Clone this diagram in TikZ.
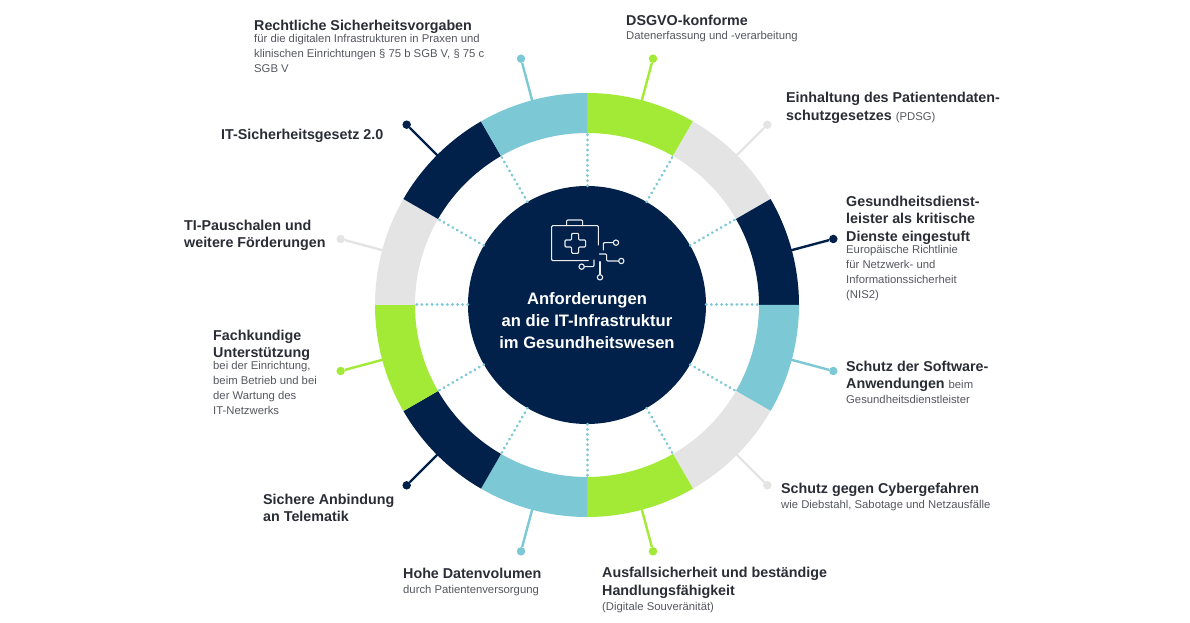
\documentclass[tikz,border=0pt]{standalone}
\usepackage{fontspec}
\setmainfont{Liberation Sans}
\usetikzlibrary{calc,positioning}
\definecolor{navyseg}{HTML}{02214a}
\definecolor{tealseg}{HTML}{7cc8d4}
\definecolor{limeseg}{HTML}{a2ea35}
\definecolor{greyseg}{HTML}{e4e4e4}
\definecolor{headtext}{HTML}{2a2c36}
\definecolor{subtext}{HTML}{55575f}

\tikzset{
	headnode/.style={anchor=north west,inner sep=0pt,align=left,text=headtext,
		font=\fontsize{14.3}{17.5}\selectfont\bfseries,execute at begin node=\strut},
	subnode/.style={anchor=north west,inner sep=0pt,align=left,text=subtext,
		font=\fontsize{11.3}{15}\selectfont,execute at begin node=\strut},
	endball/.style={circle,fill,inner sep=0pt,minimum size=8.5pt},
	stem/.style={line width=2.4pt},
	spoke/.style={tealseg,line width=3pt,line cap=round,dash pattern=on 0.1pt off 5pt},
	iconline/.style={draw=white!92!navyseg,line width=1.1pt,line cap=round,line join=round,rounded corners=1pt}
}

\begin{document}
\begin{tikzpicture}[x=1pt,y=1pt]
	\useasboundingbox (-587,-318) rectangle (603,305);

	% ring
	\fill[limeseg](90:212) arc (90:60:212) -- (60:172) arc (60:90:172) -- cycle;
	\fill[greyseg](60:212) arc (60:30:212) -- (30:172) arc (30:60:172) -- cycle;
	\fill[navyseg](30:212) arc (30:0:212) -- (0:172) arc (0:30:172) -- cycle;
	\fill[tealseg](0:212) arc (0:-30:212) -- (-30:172) arc (-30:0:172) -- cycle;
	\fill[greyseg](-30:212) arc (-30:-60:212) -- (-60:172) arc (-60:-30:172) -- cycle;
	\fill[limeseg](-60:212) arc (-60:-90:212) -- (-90:172) arc (-90:-60:172) -- cycle;
	\fill[tealseg](-90:212) arc (-90:-120:212) -- (-120:172) arc (-120:-90:172) -- cycle;
	\fill[navyseg](-120:212) arc (-120:-150:212) -- (-150:172) arc (-150:-120:172) -- cycle;
	\fill[limeseg](-150:212) arc (-150:-180:212) -- (-180:172) arc (-180:-150:172) -- cycle;
	\fill[greyseg](180:212) arc (180:150:212) -- (150:172) arc (150:180:172) -- cycle;
	\fill[navyseg](150:212) arc (150:120:212) -- (120:172) arc (120:150:172) -- cycle;
	\fill[tealseg](120:212) arc (120:90:212) -- (90:172) arc (90:120:172) -- cycle;

	\node[circle,fill=navyseg,inner sep=0pt,minimum size=238pt] (hub) at (0,0) {};

	% spokes
	\coordinate (inA) at (90:172);
	\coordinate (inB) at (60:172);
	\coordinate (inC) at (30:172);
	\coordinate (inD) at (0:172);
	\coordinate (inE) at (-30:172);
	\coordinate (inF) at (-60:172);
	\coordinate (inG) at (-90:172);
	\coordinate (inH) at (-120:172);
	\coordinate (inI) at (-150:172);
	\coordinate (inJ) at (180:172);
	\coordinate (inK) at (150:172);
	\coordinate (inL) at (120:172);
	\draw[spoke] (hub.90) -- (inA);
	\draw[spoke] (hub.60) -- (inB);
	\draw[spoke] (hub.30) -- (inC);
	\draw[spoke] (hub.0) -- (inD);
	\draw[spoke] (hub.-30) -- (inE);
	\draw[spoke] (hub.-60) -- (inF);
	\draw[spoke] (hub.-90) -- (inG);
	\draw[spoke] (hub.-120) -- (inH);
	\draw[spoke] (hub.-150) -- (inI);
	\draw[spoke] (hub.180) -- (inJ);
	\draw[spoke] (hub.150) -- (inK);
	\draw[spoke] (hub.120) -- (inL);

	% stems
	\coordinate (outA) at (75:211);
	\coordinate (outB) at (45:211);
	\coordinate (outC) at (15:211);
	\coordinate (outD) at (-15:211);
	\coordinate (outE) at (-45:211);
	\coordinate (outF) at (-75:211);
	\coordinate (outG) at (-105:211);
	\coordinate (outH) at (-135:211);
	\coordinate (outI) at (-165:211);
	\coordinate (outJ) at (165:211);
	\coordinate (outK) at (135:211);
	\coordinate (outL) at (105:211);
	\node[endball,limeseg] (ballA) at (75:255) {};
	\node[endball,greyseg] (ballB) at (45:255) {};
	\node[endball,navyseg] (ballC) at (15:255) {};
	\node[endball,tealseg] (ballD) at (-15:255) {};
	\node[endball,greyseg] (ballE) at (-45:255) {};
	\node[endball,limeseg] (ballF) at (-75:255) {};
	\node[endball,tealseg] (ballG) at (-105:255) {};
	\node[endball,navyseg] (ballH) at (-135:255) {};
	\node[endball,limeseg] (ballI) at (-165:255) {};
	\node[endball,greyseg] (ballJ) at (165:255) {};
	\node[endball,navyseg] (ballK) at (135:255) {};
	\node[endball,tealseg] (ballL) at (105:255) {};
	\draw[stem,limeseg] (outA) -- (ballA);
	\draw[stem,greyseg] (outB) -- (ballB);
	\draw[stem,navyseg] (outC) -- (ballC);
	\draw[stem,tealseg] (outD) -- (ballD);
	\draw[stem,greyseg] (outE) -- (ballE);
	\draw[stem,limeseg] (outF) -- (ballF);
	\draw[stem,tealseg] (outG) -- (ballG);
	\draw[stem,navyseg] (outH) -- (ballH);
	\draw[stem,limeseg] (outI) -- (ballI);
	\draw[stem,greyseg] (outJ) -- (ballJ);
	\draw[stem,navyseg] (outK) -- (ballK);
	\draw[stem,tealseg] (outL) -- (ballL);

	% icon, in pixels of the crop
	\begin{scope}[shift={(-127,115)},x=0.3333pt,y=-0.3333pt]
		\draw[iconline] (385,212) -- (275,212) -- (275,107) -- (415,107) -- (415,165);
		\draw[iconline] (320,107) -- (320,90) -- (368,90) -- (368,107);
		\draw[iconline] (335,130) -- (356,130) -- (356,150) -- (377,150) -- (377,171) -- (356,171) -- (356,190) -- (335,190) -- (335,171) -- (315,171) -- (315,150) -- (335,150) -- cycle;
		\draw[iconline] (430,180) -- (430,158) -- (460,158);
		\draw[iconline] (468,158) circle (8);
		\draw[iconline] (418,192) -- (440,192) -- (440,213) -- (476,213);
		\draw[iconline] (484,213) circle (8);
		\draw[iconline] (373,230) -- (402,230) -- (402,210);
		\draw[iconline] (365,230) circle (8);
		\draw[iconline] (420,215) -- (420,254);
		\draw[iconline] (420,262) circle (8);
	\end{scope}

	\node[align=center,inner sep=0pt,text=white,font=\fontsize{16.6}{22}\selectfont\bfseries] (hubtext) at (0,-16) {Anforderungen\\an die IT-Infrastruktur\\im Gesundheitswesen};

	% labels
	\node[headnode] (rechtHead) at (-333,287) {Rechtliche Sicherheitsvorgaben};
	\node[subnode] (rechtSub) at (-333,270.5) {für die digitalen Infrastrukturen in Praxen und\\klinischen Einrichtungen § 75 b SGB V, § 75 c\\SGB V};
	\node[headnode] (itsigHead) at (-366,177.5) {IT-Sicherheitsgesetz 2.0};
	\node[headnode] (tiHead) at (-403,85.5) {TI-Pauschalen und\\weitere Förderungen};
	\node[headnode] (fachHead) at (-374,-24.5) {Fachkundige\\Unterstützung};
	\node[subnode] (fachSub) at (-374,-56.5) {bei der Einrichtung,\\beim Betrieb und bei\\der Wartung des\\IT-Netzwerks};
	\node[headnode] (teleHead) at (-324,-188.5) {Sichere Anbindung\\an Telematik};
	\node[headnode] (datenHead) at (-184,-261) {Hohe Datenvolumen};
	\node[subnode] (datenSub) at (-184,-277.5) {durch Patientenversorgung};
	\node[headnode] (ausfallHead) at (15,-262) {Ausfallsicherheit und beständige\\Handlungsfähigkeit};
	\node[subnode] (ausfallSub) at (15,-294.5) {(Digitale Souveränität)};
	\node[headnode] (cyberHead) at (194,-176.5) {Schutz gegen Cybergefahren};
	\node[subnode] (cyberSub) at (194,-192.5) {wie Diebstahl, Sabotage und Netzausfälle};
	\node[headnode] (softHead) at (259,-55.5) {Schutz der Software-\\Anwendungen {\fontsize{11.3}{15}\selectfont\mdseries\color{subtext} beim}};
	\node[subnode] (softSub) at (259,-87.5) {Gesundheitsdienstleister};
	\node[headnode] (kritisHead) at (259,109.5) {Gesundheitsdienst-\\leister als kritische\\Dienste eingestuft};
	\node[subnode] (kritisSub) at (259,59.5) {Europäische Richtlinie\\für Netzwerk- und\\Informationssicherheit\\(NIS2)};
	\node[headnode] (pdsgHead) at (199,213) {Einhaltung des Patientendaten-\\schutzgesetzes {\fontsize{11.3}{15}\selectfont\mdseries\color{subtext} (PDSG)}};
	\node[headnode] (dsgvoHead) at (39,292) {DSGVO-konforme};
	\node[subnode] (dsgvoSub) at (39,276.5) {Datenerfassung und -verarbeitung};
\end{tikzpicture}
\end{document}
